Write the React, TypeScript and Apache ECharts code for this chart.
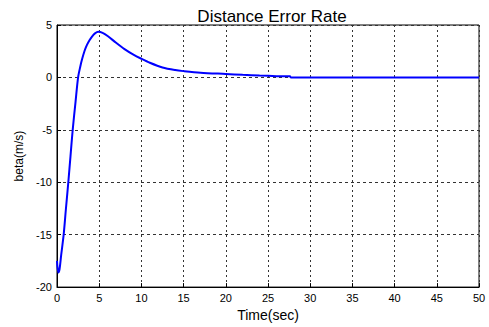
import React, { useEffect, useRef } from "react";
import * as echarts from "echarts";

const timeSec = [0, 0.15, 0.3, 0.5, 0.79, 1.05, 1.34, 1.6, 1.86, 2.2, 2.5, 2.75, 2.96, 3.25, 3.55, 3.85, 4.15, 4.5, 4.9, 5.4, 6.0, 7.0, 8.0, 9.0, 10, 11, 12.5, 14, 15, 17, 20, 22, 24, 26, 27.6, 27.7, 30, 35, 40, 45, 50];
const betaValues = [-17.5, -18.6, -18.3, -16.9, -15, -12.6, -10, -7.5, -5, -2.3, 0, 1.0, 1.7, 2.5, 3.1, 3.55, 3.9, 4.2, 4.35, 4.25, 3.95, 3.3, 2.7, 2.2, 1.78, 1.4, 0.95, 0.7, 0.6, 0.45, 0.33, 0.25, 0.18, 0.12, 0.1, 0, 0, 0, 0, 0, 0];
const xTicks = [0, 5, 10, 15, 20, 25, 30, 35, 40, 45, 50];
const yTicks = [-20, -15, -10, -5, 0, 5];

export default function App() {
  const ref = useRef<HTMLDivElement>(null);
  useEffect(() => {
    if (!ref.current) return;
    const chart = echarts.init(ref.current, undefined, { renderer: "svg" });
    const font = "'Liberation Sans', Arial, sans-serif";
    chart.setOption({
      animation: false,
      backgroundColor: "#ffffff",
      title: {
        text: "Distance Error Rate",
        left: 267,
        top: 3,
        textAlign: "center",
        textStyle: { fontFamily: font, fontSize: 17, fontWeight: "normal", color: "#000" },
      },
      grid: {
        left: 57,
        right: 10,
        top: 25,
        bottom: 36,
        show: true,
        borderColor: "#000",
        borderWidth: 1,
        backgroundColor: "#fff",
      },
      xAxis: {
        type: "value",
        min: xTicks[0],
        max: xTicks[xTicks.length - 1],
        interval: 5,
        name: "Time(sec)",
        nameLocation: "middle",
        nameGap: 12,
        nameTextStyle: { fontFamily: font, fontSize: 14, color: "#000" },
        axisLine: { show: true, onZero: false, lineStyle: { color: "#000", width: 1 } },
        axisTick: { show: true, inside: true, length: 4, lineStyle: { color: "#000" } },
        axisLabel: { fontFamily: font, fontSize: 11, color: "#000", margin: 5 },
        splitLine: { show: true, lineStyle: { color: "#333", type: [2, 3], width: 1 } },
      },
      yAxis: {
        type: "value",
        min: yTicks[0],
        max: yTicks[yTicks.length - 1],
        interval: 5,
        name: "beta(m/s)",
        nameLocation: "middle",
        nameGap: 30,
        nameTextStyle: { fontFamily: font, fontSize: 12, color: "#000" },
        axisLine: { show: true, onZero: false, lineStyle: { color: "#000", width: 1 } },
        axisTick: { show: true, inside: true, length: 4, lineStyle: { color: "#000" } },
        axisLabel: { fontFamily: font, fontSize: 11, color: "#000", margin: 5 },
        splitLine: { show: true, lineStyle: { color: "#333", type: [3, 3], width: 1 } },
      },
      series: [
        {
          type: "line",
          data: timeSec.map((t, i) => [t, betaValues[i]]),
          smooth: 0.3,
          showSymbol: false,
          lineStyle: { color: "#0000ff", width: 2 },
        },
      ],
    });
    return () => chart.dispose();
  }, []);
  return (
    <div
      ref={ref}
      style={{ position: "fixed", left: 0, top: 0, width: 489, height: 327 }}
    />
  );
}
